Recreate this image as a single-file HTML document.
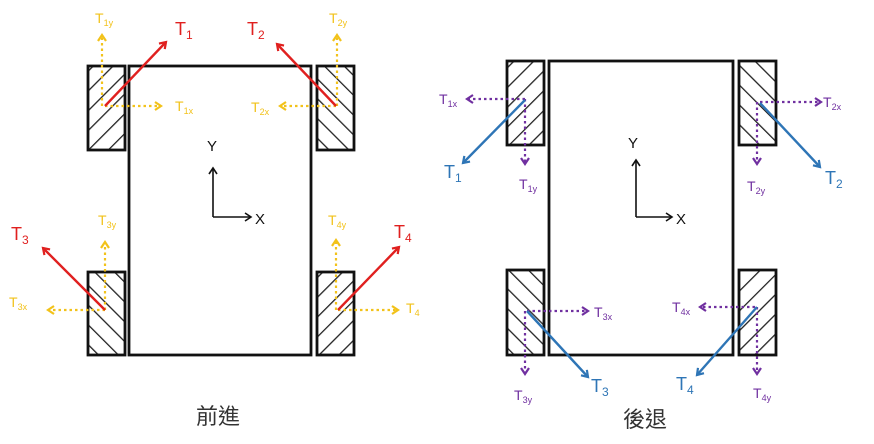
<!DOCTYPE html>
<html><head><meta charset="utf-8"><style>
html,body{margin:0;padding:0;background:#fff;}
svg{display:block;}
text{font-family:"Liberation Sans","Noto Sans CJK TC",sans-serif;}
</style></head><body>
<svg width="874" height="444" viewBox="0 0 874 444" xmlns="http://www.w3.org/2000/svg">
<defs>
<pattern id="hf" patternUnits="userSpaceOnUse" width="14" height="14" patternTransform="rotate(45)"><line x1="0" y1="0" x2="0" y2="14" stroke="#222" stroke-width="2.6"/></pattern>
<pattern id="hb" patternUnits="userSpaceOnUse" width="14" height="14" patternTransform="rotate(-45)"><line x1="0" y1="0" x2="0" y2="14" stroke="#222" stroke-width="2.6"/></pattern>
<marker id="mr" markerWidth="10" markerHeight="10" refX="7" refY="5" orient="auto" markerUnits="userSpaceOnUse"><path d="M1,1 L7,5 L1,9" fill="none" stroke="#e0201f" stroke-width="2.2"/></marker>
<marker id="my" markerWidth="10" markerHeight="10" refX="7" refY="5" orient="auto" markerUnits="userSpaceOnUse"><path d="M1,1 L7,5 L1,9" fill="none" stroke="#f2c21a" stroke-width="2.2"/></marker>
<marker id="mb" markerWidth="10" markerHeight="10" refX="7" refY="5" orient="auto" markerUnits="userSpaceOnUse"><path d="M1,1 L7,5 L1,9" fill="none" stroke="#2e75b6" stroke-width="2.2"/></marker>
<marker id="mp" markerWidth="10" markerHeight="10" refX="7" refY="5" orient="auto" markerUnits="userSpaceOnUse"><path d="M1,1 L7,5 L1,9" fill="none" stroke="#7030a0" stroke-width="2.2"/></marker>
<marker id="mk" markerWidth="10" markerHeight="10" refX="7" refY="5" orient="auto" markerUnits="userSpaceOnUse"><path d="M1,1 L7,5 L1,9" fill="none" stroke="#111" stroke-width="1.6"/></marker>
</defs>

<!-- LEFT DIAGRAM -->
<g stroke="#111" stroke-width="2.8">
<rect x="129" y="66" width="182" height="289" fill="#fff"/>
<rect x="88" y="66" width="37" height="84" fill="url(#hf)"/>
<rect x="317" y="66" width="37" height="84" fill="url(#hb)"/>
<rect x="88" y="272" width="37" height="83" fill="url(#hb)"/>
<rect x="317" y="272" width="37" height="83" fill="url(#hf)"/>
</g>
<g fill="none" stroke-width="1.6" stroke="#111">
<path d="M213,217 V168" marker-end="url(#mk)"/>
<path d="M213,217 H251" marker-end="url(#mk)"/>
</g>
<text x="207" y="151" font-size="15" fill="#111">Y</text>
<text x="255" y="224" font-size="15" fill="#111">X</text>

<g fill="none" stroke="#f2c21a" stroke-width="2.2" stroke-dasharray="2.5,3">
<path d="M102,106 V35" marker-end="url(#my)"/>
<path d="M105,106 H161" marker-end="url(#my)"/>
<path d="M337,106 V35" marker-end="url(#my)"/>
<path d="M336,106 H280" marker-end="url(#my)"/>
<path d="M105,310 V242" marker-end="url(#my)"/>
<path d="M105,310 H48" marker-end="url(#my)"/>
<path d="M336,310 V240" marker-end="url(#my)"/>
<path d="M338,310 H398" marker-end="url(#my)"/>
</g>
<g fill="none" stroke="#e0201f" stroke-width="2.4">
<path d="M105,106 L166,42" marker-end="url(#mr)"/>
<path d="M336,106 L277,44" marker-end="url(#mr)"/>
<path d="M105,310 L43,248" marker-end="url(#mr)"/>
<path d="M338,310 L399,247" marker-end="url(#mr)"/>
</g>
<g fill="#e0201f" font-size="18">
<text x="175" y="35">T<tspan font-size="12" dy="4">1</tspan></text>
<text x="247" y="35">T<tspan font-size="12" dy="4">2</tspan></text>
<text x="11" y="240">T<tspan font-size="12" dy="4">3</tspan></text>
<text x="394" y="238">T<tspan font-size="12" dy="4">4</tspan></text>
</g>
<g fill="#f2c21a" font-size="14">
<text x="95" y="23">T<tspan font-size="9" dy="3">1y</tspan></text>
<text x="175" y="111">T<tspan font-size="9" dy="3">1x</tspan></text>
<text x="329" y="23">T<tspan font-size="9" dy="3">2y</tspan></text>
<text x="251" y="112">T<tspan font-size="9" dy="3">2x</tspan></text>
<text x="98" y="225">T<tspan font-size="9" dy="3">3y</tspan></text>
<text x="9" y="307">T<tspan font-size="9" dy="3">3x</tspan></text>
<text x="328" y="225">T<tspan font-size="9" dy="3">4y</tspan></text>
<text x="406" y="313">T<tspan font-size="9" dy="3">4</tspan></text>
</g>
<text x="196" y="424" font-size="22" fill="#333" font-family="'Noto Sans CJK TC',sans-serif">前進</text>

<!-- RIGHT DIAGRAM -->
<g stroke="#111" stroke-width="2.8">
<rect x="549" y="61" width="184" height="294" fill="#fff"/>
<rect x="507" y="61" width="37" height="84" fill="url(#hf)"/>
<rect x="739" y="61" width="37" height="84" fill="url(#hb)"/>
<rect x="507" y="270" width="37" height="85" fill="url(#hb)"/>
<rect x="739" y="270" width="37" height="85" fill="url(#hf)"/>
</g>
<g fill="none" stroke-width="1.6" stroke="#111">
<path d="M636,217 V160" marker-end="url(#mk)"/>
<path d="M636,217 H672" marker-end="url(#mk)"/>
</g>
<text x="628" y="148" font-size="15" fill="#111">Y</text>
<text x="676" y="224" font-size="15" fill="#111">X</text>

<g fill="none" stroke="#7030a0" stroke-width="2.2" stroke-dasharray="2.5,3">
<path d="M525,99 H467" marker-end="url(#mp)"/>
<path d="M525,99 V164" marker-end="url(#mp)"/>
<path d="M760,102 H821" marker-end="url(#mp)"/>
<path d="M757,102 V164" marker-end="url(#mp)"/>
<path d="M527,311 H588" marker-end="url(#mp)"/>
<path d="M525,311 V374" marker-end="url(#mp)"/>
<path d="M755,307 H700" marker-end="url(#mp)"/>
<path d="M757,307 V374" marker-end="url(#mp)"/>
</g>
<g fill="none" stroke="#2e75b6" stroke-width="2.4">
<path d="M525,100 L463,163" marker-end="url(#mb)"/>
<path d="M760,103 L820,167" marker-end="url(#mb)"/>
<path d="M527,311 L588,377" marker-end="url(#mb)"/>
<path d="M757,307 L697,375" marker-end="url(#mb)"/>
</g>
<g fill="#2e75b6" font-size="18">
<text x="444" y="178">T<tspan font-size="12" dy="4">1</tspan></text>
<text x="825" y="184">T<tspan font-size="12" dy="4">2</tspan></text>
<text x="591" y="392">T<tspan font-size="12" dy="4">3</tspan></text>
<text x="676" y="390">T<tspan font-size="12" dy="4">4</tspan></text>
</g>
<g fill="#7030a0" font-size="14">
<text x="439" y="104">T<tspan font-size="9" dy="3">1x</tspan></text>
<text x="519" y="189">T<tspan font-size="9" dy="3">1y</tspan></text>
<text x="823" y="107">T<tspan font-size="9" dy="3">2x</tspan></text>
<text x="747" y="191">T<tspan font-size="9" dy="3">2y</tspan></text>
<text x="594" y="317">T<tspan font-size="9" dy="3">3x</tspan></text>
<text x="514" y="400">T<tspan font-size="9" dy="3">3y</tspan></text>
<text x="672" y="312">T<tspan font-size="9" dy="3">4x</tspan></text>
<text x="753" y="398">T<tspan font-size="9" dy="3">4y</tspan></text>
</g>
<text x="623" y="427" font-size="22" fill="#333" font-family="'Noto Sans CJK TC',sans-serif">後退</text>
</svg>
</body></html>
